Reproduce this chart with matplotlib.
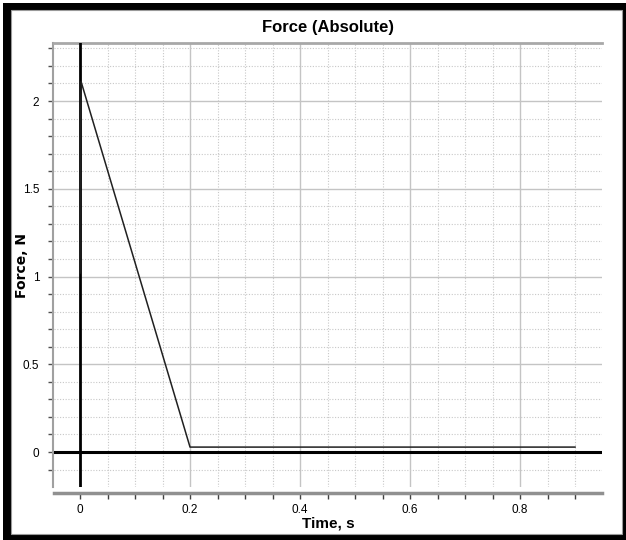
"""Force (Absolute) vs time."""
import matplotlib
matplotlib.use('Agg')
import matplotlib.pyplot as plt
from matplotlib.patches import Rectangle
from matplotlib.ticker import MultipleLocator

# ── data ──
time_s = [0.0, 0.0005, 0.002, 0.2, 0.9]
force_n = [1.02, 1.74, 2.11, 0.028, 0.028]

TITLE = 'Force (Absolute)'
XLABEL = 'Time, s'
YLABEL = 'Force, N'

NARROW = ['Liberation Sans Narrow', 'Liberation Sans', 'DejaVu Sans']


def main():
    W, H = 626, 540
    fig = plt.figure(figsize=(W / 100, H / 100), dpi=100)
    fig.patch.set_facecolor('white')

    # black frame round the picture
    fig.patches.append(Rectangle((3 / W, 0), 1, (H - 3) / H, transform=fig.transFigure,
                                 facecolor='black', edgecolor='none', zorder=-20))
    fig.patches.append(Rectangle((11 / W, 6 / H), (622 - 11) / W, (534 - 10) / H,
                                 transform=fig.transFigure, facecolor='white',
                                 edgecolor='#9a9a9a', linewidth=0.8, zorder=-19))

    ax = fig.add_axes([54 / W, (H - 487) / H, (602 - 54) / W, (487 - 43) / H])
    ax.set_facecolor('none')

    ax.set_xlim(-0.0473, 0.949)
    ax.set_ylim(-0.1994, 2.3305)

    ax.xaxis.set_major_locator(MultipleLocator(0.2))
    ax.xaxis.set_minor_locator(MultipleLocator(0.05))
    ax.yaxis.set_major_locator(MultipleLocator(0.5))
    ax.yaxis.set_minor_locator(MultipleLocator(0.1))
    ax.xaxis.set_major_formatter(lambda v, p: f'{v:g}')
    ax.yaxis.set_major_formatter(lambda v, p: f'{v:g}')

    ax.grid(True, which='major', color='#c4c4c4', linewidth=1.0)
    ax.grid(True, which='minor', color='#c8c8c8', linewidth=0.8, linestyle=(0, (1, 1.5)))
    ax.set_axisbelow(True)

    # zero lines
    ax.axhline(0, color='black', linewidth=2.2, zorder=3)
    ax.axvline(0, color='black', linewidth=2.0, zorder=3)

    ax.plot(time_s, force_n, color='#202020', linewidth=1.1, zorder=4)

    # spines
    ax.spines['right'].set_visible(False)
    ax.spines['top'].set_color('#a8a8a8')
    ax.spines['top'].set_linewidth(2.0)
    ax.spines['left'].set_color('#a0a0a0')
    ax.spines['left'].set_linewidth(1.5)
    ax.spines['left'].set_position(('outward', 1))
    ax.spines['bottom'].set_color('#909090')
    ax.spines['bottom'].set_linewidth(2.5)
    ax.spines['bottom'].set_position(('outward', 4))

    ax.tick_params(axis='x', which='both', direction='out', length=4.3, width=1,
                   color='#404040', pad=4, labelsize=8.5)
    ax.tick_params(axis='y', which='both', direction='out', length=3.6, width=1,
                   color='#505050', pad=6, labelsize=8.5)
    for lab in ax.get_xticklabels() + ax.get_yticklabels():
        lab.set_family(NARROW)

    ax.set_title(TITLE, family=NARROW, fontweight='bold', fontsize=12, pad=8)
    ax.set_xlabel(XLABEL, family=NARROW, fontweight='bold', fontsize=11)
    ax.xaxis.set_label_coords(0.5, -30 / 444)
    ax.set_ylabel(YLABEL, family='DejaVu Sans', fontweight='bold', fontsize=10)
    ax.yaxis.set_label_coords(-25 / 548, 0.5)

    fig.savefig('out.png', dpi=100)
    plt.close(fig)


if __name__ == '__main__':
    main()
